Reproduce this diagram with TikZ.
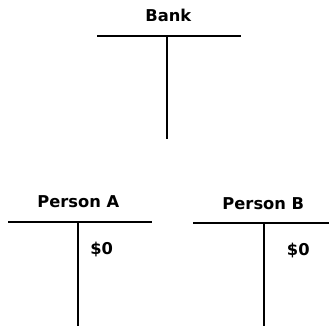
\documentclass[tikz,border=0pt]{standalone}
\usepackage{fontspec}
\setmainfont{DejaVu Sans}
\begin{document}
\begin{tikzpicture}[x=1pt,y=-1pt,
  title/.style={inner sep=0pt,anchor=base,font=\bfseries\fontsize{16.3}{19}\selectfont},
  amount/.style={inner sep=0pt,anchor=base,font=\bfseries\fontsize{16.3}{19}\selectfont},
  tline/.style={line width=1.7pt,black}]
\useasboundingbox (0,0) rectangle (329,326);
% Bank
\node[title] (bank) at (168.3,22) {Bank};
\coordinate (bankL) at (97,36);
\coordinate (bankR) at (241,36);
\coordinate (bankT) at (167,36);
\coordinate (bankB) at (167,139);
\draw[tline] (bankL) -- (bankR);
\draw[tline] (bankT) -- (bankB);
% Person A
\node[title] (pa) at (78.3,207.5) {Person A};
\coordinate (paL) at (8,222);
\coordinate (paR) at (152,222);
\coordinate (paT) at (78,222);
\coordinate (paB) at (78,326);
\draw[tline] (paL) -- (paR);
\draw[tline] (paT) -- (paB);
\node[amount] (pa0) at (101.7,254) {\$0};
% Person B
\node[title] (pb) at (263.3,209.5) {Person B};
\coordinate (pbL) at (193,223);
\coordinate (pbR) at (329,223);
\coordinate (pbT) at (264,223);
\coordinate (pbB) at (264,326);
\draw[tline] (pbL) -- (pbR);
\draw[tline] (pbT) -- (pbB);
\node[amount] (pb0) at (298.3,255) {\$0};
\end{tikzpicture}
\end{document}
